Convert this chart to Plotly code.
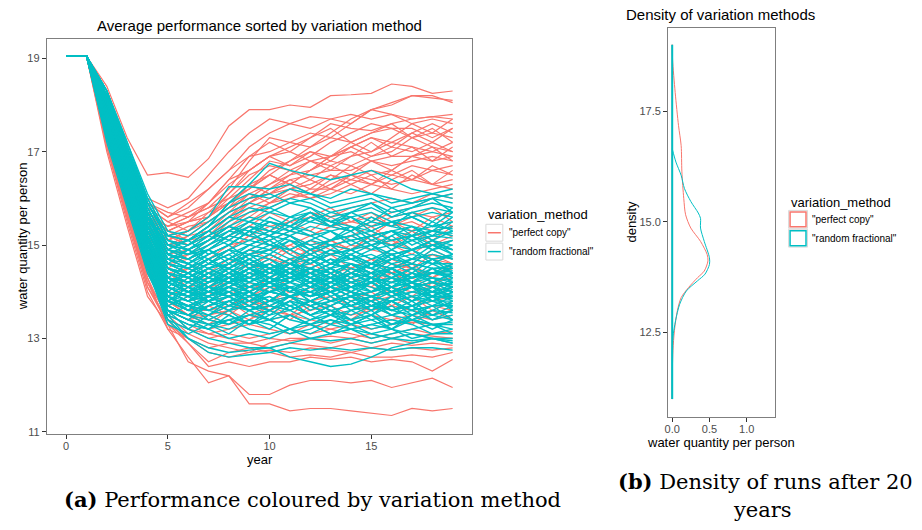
import plotly.graph_objects as go

# ---------------- data ----------------
years = list(range(20))

perfect_copy_runs = [
    [19.05,19.05,18.4,17.3,16.5,16.55,16.45,16.85,17.55,17.9,17.9,18.0,17.95,18.2,18.22,18.25,18.45,18.4,18.25,18.3],
    [19.05,19.05,18.3,17.1,16.0,15.8,16.0,16.5,17.0,17.4,17.7,17.6,17.75,17.7,17.6,17.9,18.0,18.2,18.15,18.1],
    [19.05,19.05,18.2,17.0,15.9,15.6,15.8,16.2,16.6,17.1,17.4,17.6,17.5,17.7,17.8,17.7,17.8,17.7,17.75,17.8],
    [19.05,19.05,18.1,16.9,15.8,15.5,15.7,15.9,16.4,16.9,17.0,17.2,17.4,17.3,17.6,17.9,18.05,18.2,18.2,18.05],
    [19.05,19.05,18.0,16.8,15.7,15.3,15.5,15.6,16.1,16.6,16.9,17.1,17.3,17.6,17.5,17.45,17.6,17.7,17.75,17.7],
    [19.05,19.05,18.2,17.0,15.9,15.7,15.6,15.8,16.0,16.4,16.8,16.7,16.9,17.2,17.4,17.6,17.5,17.5,17.3,17.5],
    [19.05,19.05,17.9,16.6,15.5,15.2,15.4,15.5,15.8,16.3,16.5,16.8,17.0,16.9,17.1,17.3,17.2,17.4,17.6,17.4],
    [19.05,19.05,18.0,16.8,15.6,15.1,15.3,15.7,16.1,16.5,16.7,16.6,16.8,16.7,16.9,17.0,17.2,17.1,17.0,17.2],
    [19.05,19.05,17.8,16.5,15.4,14.9,15.2,15.3,15.7,16.1,16.3,16.5,16.6,16.8,16.7,16.9,17.1,17.0,17.2,17.0],
    [19.05,19.05,18.1,16.9,15.7,15.4,15.5,15.9,16.4,16.6,16.9,17.0,16.8,16.9,17.0,16.8,16.9,16.9,16.8,16.9],
    [19.05,19.05,17.9,16.7,15.5,15.0,15.1,15.2,15.6,15.9,16.2,16.4,16.5,16.6,16.6,16.8,16.7,16.8,16.9,16.8],
    [19.05,19.05,18.0,16.8,15.6,15.3,15.5,15.6,15.9,16.2,16.6,16.8,17.1,17.4,17.7,17.9,17.8,17.6,17.7,17.6],
    [19.05,19.05,17.8,16.6,15.4,14.8,14.9,15.1,15.5,15.8,16.0,16.2,16.3,16.5,16.4,16.6,16.5,16.7,16.6,16.7],
    [19.05,19.05,17.9,16.6,15.5,15.1,15.3,15.5,15.8,16.0,16.1,16.3,16.6,16.9,17.1,16.9,17.0,17.3,17.1,17.0],
    [19.05,19.05,17.7,16.4,15.2,14.7,14.8,15.0,15.3,15.6,15.9,16.0,16.2,16.2,16.4,16.3,16.5,16.4,16.6,16.5],
    [19.05,19.05,18.0,16.7,15.6,15.2,15.0,15.2,15.5,15.9,16.1,16.2,16.0,16.1,16.3,16.5,16.6,16.9,17.0,16.9],
    [19.05,19.05,17.8,16.5,15.3,14.9,14.7,14.9,15.2,15.5,15.8,16.0,16.1,16.3,16.5,16.4,16.3,16.4,16.3,16.4],
    [19.05,19.05,18.1,16.8,15.6,15.4,15.6,15.8,16.2,16.8,17.3,17.2,17.1,17.3,17.2,17.4,17.5,17.3,17.4,17.3],
    [19.05,19.05,18.0,16.8,15.7,15.4,15.6,15.9,16.3,16.6,16.9,16.7,17.0,16.8,17.1,17.3,17.1,17.4,17.2,17.5],
    [19.05,19.05,17.9,16.6,15.5,15.2,15.0,15.3,15.6,16.0,16.3,16.6,16.4,16.7,16.5,16.8,16.6,16.9,17.1,16.8],
    [19.05,19.05,18.2,17.0,15.9,15.6,15.9,16.2,16.6,16.9,17.2,17.0,17.3,17.5,17.2,17.4,17.6,17.3,17.5,17.2],
    [19.05,19.05,17.8,16.6,15.4,15.0,15.2,15.5,15.8,16.1,15.9,16.2,16.4,16.2,16.5,16.3,16.6,16.4,16.7,16.5],
    [19.05,19.05,18.1,16.9,15.8,15.5,15.3,15.6,16.0,16.2,16.5,16.3,16.6,16.9,17.2,17.0,17.3,17.6,17.4,17.7],
    [19.05,19.05,17.9,16.7,15.6,15.3,15.5,15.7,15.9,16.3,16.1,16.4,16.2,16.5,16.3,16.1,16.4,16.6,16.3,16.6],
    [19.05,19.05,18.0,16.8,15.7,15.3,15.1,15.4,15.7,15.9,16.2,16.5,16.8,16.6,16.9,17.2,16.9,17.1,16.8,17.1],
    [19.05,19.05,17.8,16.5,15.4,15.1,15.3,15.6,15.9,16.2,16.5,16.3,16.1,16.4,16.7,16.5,16.2,16.5,16.3,16.2],
    [19.05,19.05,17.7,16.3,15.1,14.5,14.4,14.6,14.9,15.2,15.4,15.5,15.7,15.6,15.8,15.9,16.0,15.9,16.1,16.0],
    [19.05,19.05,17.6,16.2,15.0,14.3,14.2,14.3,14.6,14.9,15.1,15.3,15.2,15.4,15.5,15.4,15.6,15.7,15.6,15.7],
    [19.05,19.05,17.5,16.1,14.8,14.1,13.9,14.0,14.3,14.5,14.7,14.6,14.8,15.0,14.9,15.1,15.0,15.2,15.3,15.2],
    [19.05,19.05,17.6,16.2,14.9,14.2,14.0,14.1,14.2,14.4,14.3,14.5,14.4,14.6,14.5,14.7,14.6,14.5,14.7,14.6],
    [19.05,19.05,17.4,15.9,14.6,13.9,13.7,13.8,14.0,14.1,14.3,14.2,14.4,14.3,14.2,14.4,14.3,14.4,14.2,14.3],
    [19.05,19.05,17.5,16.0,14.7,13.8,13.6,13.6,13.7,13.9,14.0,13.9,14.1,14.0,14.2,14.1,14.0,14.1,14.2,14.1],
    [19.05,19.05,17.3,15.8,14.5,13.7,13.5,13.4,13.6,13.7,13.8,13.9,13.8,13.7,13.9,13.8,13.9,13.7,13.8,13.9],
    [19.05,19.05,17.7,16.3,15.1,14.6,14.7,14.9,15.2,15.4,15.3,15.5,15.6,15.4,15.5,15.6,15.4,15.5,15.3,15.4],
    [19.05,19.05,17.5,16.0,14.8,14.0,13.8,13.9,14.1,14.3,14.5,14.7,14.9,14.8,15.0,14.9,14.8,14.9,15.0,14.9],
    [19.05,19.05,17.4,15.9,14.6,13.8,13.5,13.5,13.6,13.8,13.7,13.6,13.8,13.9,13.7,13.6,13.7,13.6,13.5,13.6],
    [19.05,19.05,17.6,16.1,14.9,14.3,14.1,14.2,14.5,14.8,14.9,15.0,15.2,15.4,15.3,15.5,15.7,15.8,16.0,16.1],
    [19.05,19.05,17.5,16.0,14.7,14.0,13.9,14.1,14.4,14.6,14.5,14.7,14.6,14.4,14.5,14.3,14.4,14.5,14.4,14.5],
    [19.05,19.05,17.6,16.2,15.0,14.4,14.5,14.7,15.0,15.1,15.3,15.2,15.0,15.1,15.2,15.0,15.1,14.9,15.0,15.1],
    [19.05,19.05,17.3,15.8,14.4,13.6,13.4,13.5,13.7,13.9,14.1,14.0,14.2,14.3,14.4,14.6,14.5,14.7,14.8,14.7],
    [19.05,19.05,17.7,16.3,15.2,14.7,14.9,15.1,15.4,15.7,15.9,16.1,16.0,16.2,16.1,16.3,16.2,16.1,16.2,16.3],
    [19.05,19.05,17.4,16.0,14.6,13.9,13.6,13.7,13.9,14.0,13.8,14.0,13.9,14.1,14.0,13.9,14.1,14.0,14.1,14.0],
    [19.05,19.05,17.6,16.2,14.9,14.2,14.5,14.3,14.6,14.9,14.7,15.0,14.8,15.1,14.9,15.2,15.0,14.8,15.1,14.9],
    [19.05,19.05,17.4,16.0,14.6,13.8,13.6,13.9,14.2,14.0,14.3,14.1,13.9,14.2,14.4,14.2,14.5,14.3,14.1,14.4],
    [19.05,19.05,17.7,16.3,15.0,14.4,14.2,14.5,14.3,14.6,14.4,14.7,14.5,14.3,14.6,14.4,14.2,14.5,14.3,14.6],
    [19.05,19.05,17.3,15.8,14.4,13.6,13.4,13.7,13.5,13.8,13.6,13.4,13.7,13.5,13.8,14.0,13.7,13.9,13.6,13.8],
    [19.05,19.05,17.8,16.4,15.1,14.5,14.8,15.1,15.4,15.2,15.5,15.3,15.6,15.8,15.5,15.7,15.4,15.6,15.8,15.5],
    [19.05,19.05,17.5,16.1,14.7,14.0,14.3,14.1,13.9,14.2,14.0,14.3,14.5,14.3,14.6,14.4,14.7,14.5,14.8,14.6],
    [19.05,19.05,17.6,16.2,14.8,14.1,13.9,14.2,14.5,14.3,14.6,14.9,14.6,14.8,14.5,14.7,14.4,14.6,14.3,14.5],
    [19.05,19.05,17.4,15.9,14.5,13.7,13.5,13.3,13.6,13.4,13.7,13.5,13.8,13.6,13.4,13.7,13.5,13.3,13.6,13.4],
    [19.05,19.05,17.7,16.3,15.0,14.3,14.6,14.4,14.7,14.5,14.2,14.5,14.3,14.0,14.3,14.1,14.4,14.2,13.9,14.1],
    [19.05,19.05,17.9,16.6,15.3,14.8,15.0,15.3,15.1,15.4,15.7,15.5,15.3,15.6,15.4,15.2,15.5,15.3,15.6,15.4],
    [19.05,19.05,17.5,16.0,14.6,13.9,14.1,13.9,14.2,14.0,14.3,14.6,14.4,14.2,14.5,14.7,14.4,14.6,14.9,14.7],
    [19.05,19.05,17.6,16.2,14.8,14.0,13.8,14.0,13.7,13.9,13.6,13.8,14.1,13.8,14.0,13.7,13.9,14.2,13.9,14.1],
    [19.05,19.05,17.8,16.5,15.2,14.6,14.4,14.7,14.9,15.2,15.0,14.8,15.1,14.9,15.2,15.4,15.1,15.3,15.0,15.2],
    [19.05,19.05,17.3,15.9,14.5,13.7,13.9,13.6,13.8,13.5,13.7,13.9,13.6,13.8,14.0,13.8,14.1,13.9,14.2,14.0],
    [19.05,19.05,17.7,16.4,15.0,14.4,14.1,14.4,14.2,14.5,14.8,14.6,14.9,15.1,14.9,15.2,15.0,15.3,15.1,15.4],
    [19.05,19.05,17.2,15.6,14.2,13.3,12.5,12.3,12.2,11.6,11.6,11.45,11.5,11.5,11.45,11.4,11.35,11.5,11.45,11.5],
    [19.05,19.05,17.1,15.5,14.0,13.2,12.6,12.05,12.2,11.8,11.8,12.0,12.1,12.1,12.05,12.1,11.95,12.05,12.15,11.95],
    [19.05,19.05,17.0,15.4,13.9,13.3,12.9,12.4,12.5,12.4,12.5,12.5,12.6,12.55,12.6,12.5,12.55,12.5,12.3,12.55],
    [19.05,19.05,17.1,15.6,14.1,13.4,12.9,12.5,12.7,12.8,12.7,12.6,12.65,12.6,12.7,12.6,12.6,12.65,12.6,12.7],
    [19.05,19.05,17.3,15.7,14.3,13.2,13.0,12.8,12.9,12.9,12.8,12.9,12.85,12.8,12.9,12.8,12.9,12.85,12.9,12.85],
    [19.05,19.05,17.2,15.7,14.2,13.5,13.1,12.9,12.8,12.7,12.9,13.0,13.0,12.9,13.0,13.1,13.0,12.9,13.0,13.0],
    [19.05,19.05,17.3,15.8,14.4,13.6,13.2,13.0,13.1,13.0,13.1,13.2,13.1,13.2,13.1,13.0,13.1,13.2,13.1,13.15],
    [19.05,19.05,17.4,15.9,14.5,13.5,13.3,13.1,13.2,13.3,13.2,13.1,13.3,13.2,13.3,13.2,13.3,13.35,13.3,13.3],
    [19.05,19.05,17.2,15.6,14.1,13.3,13.0,12.7,12.6,12.7,12.75,12.7,12.8,12.75,12.7,12.8,12.75,12.8,12.75,12.8],
    [19.05,19.05,17.3,15.7,14.3,13.4,13.2,13.1,13.0,12.9,13.0,12.95,13.0,13.05,13.0,12.9,13.0,13.1,13.05,13.0],
    [19.05,19.05,17.5,16.0,14.6,13.8,13.5,13.3,13.4,13.5,13.4,13.5,13.4,13.3,13.4,13.5,13.4,13.5,13.4,13.5],
    [19.05,19.05,17.4,15.9,14.4,13.6,13.4,13.2,13.3,13.4,13.6,13.5,13.6,13.7,13.5,13.6,13.7,13.6,13.7,13.6],
]

random_fractional_runs = [
    [19.05,19.05,18.0,16.8,15.6,15.0,15.1,15.4,15.9,16.3,16.75,16.6,16.5,16.4,16.5,16.6,16.4,16.2,16.1,16.2],
    [19.05,19.05,17.9,16.7,15.5,15.2,15.3,15.6,16.25,16.25,16.2,16.3,16.1,16.0,16.2,16.1,16.0,15.9,16.0,16.1],
    [19.05,19.05,17.3,15.9,14.5,13.6,13.2,13.0,12.9,12.8,12.8,12.6,12.5,12.4,12.45,12.6,12.8,12.9,13.0,12.9],
    [19.05,19.05,17.2,15.8,14.4,13.5,13.0,12.7,12.6,12.65,12.7,12.8,12.75,12.8,12.75,12.8,12.75,12.8,12.8,12.75],
    [19.05,19.05,17.3,15.9,14.5,13.4,13.0,12.8,12.7,12.75,12.8,12.9,13.0,12.95,13.0,12.9,13.0,12.95,13.0,12.95],
    [19.05,19.05,17.4,16.0,14.6,13.6,13.4,13.3,13.4,13.2,13.1,13.2,13.0,13.1,13.2,13.1,13.0,13.1,13.0,13.0],
    [19.05,19.05,17.5,16.1,14.7,13.7,13.5,13.4,13.3,13.5,13.4,13.2,13.3,13.1,13.2,13.3,13.2,13.0,13.1,13.1],
    [19.05,19.05,17.6,16.2,14.9,14.0,13.8,13.6,13.5,13.3,13.4,13.5,13.3,13.4,13.2,13.3,13.4,13.3,13.1,13.2],
    [19.05,19.05,17.4,16.0,14.6,13.5,13.3,13.2,13.4,13.5,13.6,13.4,13.3,13.5,13.4,13.2,13.3,13.4,13.3,13.3],
    [19.05,19.05,17.7,16.3,15.0,14.1,13.9,13.8,13.6,13.7,13.5,13.6,13.4,13.5,13.3,13.4,13.5,13.4,13.3,13.35],
    [19.05,19.05,17.5,16.1,14.8,13.8,13.6,13.5,13.7,13.6,13.8,13.7,13.5,13.6,13.4,13.5,13.3,13.4,13.5,13.4],
    [19.05,19.05,17.8,16.5,15.2,14.3,14.0,13.8,13.9,13.7,13.6,13.8,13.7,13.5,13.6,13.7,13.5,13.6,13.4,13.5],
    [19.05,19.05,17.6,16.2,14.9,13.9,13.7,13.6,13.8,13.9,13.7,13.6,13.8,13.6,13.5,13.7,13.6,13.5,13.6,13.55],
    [19.05,19.05,17.9,16.6,15.3,14.5,14.3,14.1,14.0,13.8,13.9,13.7,13.8,13.6,13.7,13.8,13.6,13.7,13.5,13.6],
    [19.05,19.05,17.5,16.1,14.7,13.7,13.5,13.7,13.8,13.6,13.7,13.9,13.8,13.7,13.9,13.8,13.6,13.7,13.8,13.65],
    [19.05,19.05,17.7,16.4,15.1,14.2,14.0,13.9,14.1,14.0,13.8,13.9,13.7,13.8,13.9,13.7,13.8,13.6,13.7,13.7],
    [19.05,19.05,17.6,16.3,15.0,14.0,13.8,13.9,13.7,13.8,14.0,13.9,14.0,13.8,13.7,13.9,13.8,13.9,13.7,13.75],
    [19.05,19.05,18.0,16.7,15.4,14.6,14.4,14.2,14.3,14.1,14.0,13.9,14.0,13.8,13.9,13.7,13.8,13.9,13.8,13.8],
    [19.05,19.05,17.5,16.2,14.8,13.8,13.7,13.8,13.9,14.1,14.0,13.9,14.1,14.0,13.8,13.9,14.0,13.8,13.9,13.85],
    [19.05,19.05,17.8,16.5,15.2,14.3,14.1,14.0,13.9,14.1,14.2,14.0,13.9,14.1,14.0,13.9,13.8,14.0,13.9,13.9],
    [19.05,19.05,17.6,16.2,14.9,13.9,13.8,14.0,14.2,14.1,14.3,14.2,14.0,14.1,13.9,14.0,14.1,13.9,14.0,13.95],
    [19.05,19.05,17.9,16.6,15.3,14.4,14.2,14.0,14.1,13.9,14.0,14.1,13.9,14.0,14.2,14.1,13.9,14.0,14.1,14.0],
    [19.05,19.05,17.7,16.3,15.0,14.1,13.9,14.1,14.0,14.2,14.1,14.3,14.2,14.0,14.1,14.2,14.0,14.1,13.9,14.05],
    [19.05,19.05,17.5,16.1,14.7,13.6,13.5,13.7,13.9,14.0,14.2,14.1,14.0,14.2,14.1,14.0,14.2,14.1,14.0,14.1],
    [19.05,19.05,18.0,16.7,15.5,14.7,14.5,14.3,14.2,14.4,14.3,14.1,14.2,14.0,14.1,14.2,14.0,14.1,14.2,14.1],
    [19.05,19.05,17.6,16.3,14.9,14.0,13.9,14.0,14.2,14.3,14.1,14.2,14.4,14.3,14.1,14.2,14.3,14.1,14.2,14.15],
    [19.05,19.05,17.8,16.4,15.1,14.2,14.1,14.3,14.2,14.0,14.2,14.3,14.1,14.2,14.4,14.3,14.1,14.2,14.3,14.2],
    [19.05,19.05,17.7,16.4,15.1,14.2,14.0,14.2,14.4,14.3,14.5,14.4,14.2,14.3,14.1,14.2,14.3,14.2,14.1,14.2],
    [19.05,19.05,17.9,16.5,15.2,14.4,14.3,14.1,14.3,14.2,14.4,14.3,14.5,14.4,14.2,14.3,14.2,14.4,14.3,14.25],
    [19.05,19.05,17.6,16.2,14.8,13.8,13.7,13.9,14.1,14.3,14.2,14.4,14.3,14.2,14.4,14.3,14.2,14.3,14.4,14.3],
    [19.05,19.05,18.1,16.8,15.6,14.8,14.6,14.4,14.5,14.3,14.2,14.4,14.3,14.5,14.3,14.4,14.5,14.3,14.4,14.35],
    [19.05,19.05,17.8,16.5,15.2,14.3,14.2,14.4,14.3,14.5,14.6,14.4,14.5,14.3,14.4,14.6,14.5,14.3,14.4,14.4],
    [19.05,19.05,17.7,16.3,15.0,14.1,14.0,14.2,14.4,14.6,14.5,14.3,14.4,14.6,14.5,14.4,14.3,14.5,14.4,14.45],
    [19.05,19.05,18.0,16.7,15.4,14.5,14.4,14.6,14.5,14.7,14.5,14.6,14.4,14.5,14.6,14.4,14.5,14.6,14.5,14.5],
    [19.05,19.05,17.9,16.6,15.3,14.4,14.3,14.5,14.7,14.6,14.8,14.6,14.5,14.7,14.6,14.5,14.7,14.6,14.5,14.55],
    [19.05,19.05,18.1,16.8,15.6,14.8,14.7,14.5,14.6,14.8,14.7,14.5,14.6,14.8,14.7,14.6,14.5,14.7,14.6,14.6],
    [19.05,19.05,17.8,16.5,15.2,14.3,14.2,14.4,14.6,14.8,14.9,14.7,14.8,14.6,14.7,14.8,14.6,14.7,14.8,14.7],
    [19.05,19.05,18.0,16.7,15.5,14.6,14.5,14.7,14.9,14.8,15.0,14.9,14.7,14.8,14.9,14.7,14.8,14.9,14.7,14.8],
    [19.05,19.05,17.9,16.6,15.3,14.5,14.4,14.6,14.8,15.0,14.9,15.1,15.0,14.8,14.9,15.0,14.8,14.9,15.0,14.9],
    [19.05,19.05,18.2,16.9,15.7,14.9,14.8,14.9,15.1,15.0,15.2,15.1,14.9,15.0,15.1,14.9,15.0,15.1,14.9,15.0],
    [19.05,19.05,18.0,16.7,15.4,14.6,14.5,14.7,14.9,15.1,15.0,14.9,15.1,15.0,14.9,15.1,15.0,14.9,15.1,15.0],
    [19.05,19.05,18.1,16.8,15.6,14.8,14.7,14.9,15.2,15.1,15.3,15.2,15.0,15.1,15.2,15.0,15.1,15.2,15.0,15.1],
    [19.05,19.05,18.2,17.0,15.8,15.0,14.9,15.1,15.3,15.2,15.1,15.3,15.2,15.0,15.1,15.2,15.3,15.1,15.2,15.15],
    [19.05,19.05,18.0,16.7,15.5,14.7,14.6,14.8,15.0,15.3,15.2,15.4,15.3,15.1,15.2,15.3,15.1,15.2,15.3,15.2],
    [19.05,19.05,18.3,17.1,15.9,15.1,15.0,15.2,15.4,15.3,15.5,15.4,15.2,15.3,15.4,15.2,15.3,15.4,15.2,15.3],
    [19.05,19.05,18.1,16.9,15.7,14.9,14.8,15.0,15.3,15.5,15.4,15.3,15.5,15.4,15.3,15.5,15.4,15.3,15.4,15.35],
    [19.05,19.05,18.2,17.0,15.8,15.0,14.9,15.1,15.4,15.6,15.5,15.4,15.6,15.5,15.4,15.3,15.5,15.4,15.3,15.4],
    [19.05,19.05,18.3,17.2,16.0,15.2,15.1,15.3,15.6,15.5,15.7,15.6,15.5,15.7,15.6,15.4,15.5,15.6,15.4,15.5],
    [19.05,19.05,18.2,17.0,15.8,15.0,14.9,15.2,15.5,15.7,15.8,15.6,15.7,15.5,15.6,15.7,15.5,15.6,15.7,15.6],
    [19.05,19.05,18.3,17.1,15.9,15.1,15.0,15.3,15.6,15.8,15.7,15.9,15.8,15.6,15.7,15.8,15.6,15.7,15.8,15.7],
    [19.05,19.05,18.2,17.0,15.9,15.2,15.1,15.4,15.7,15.9,15.8,16.0,15.9,15.7,15.8,15.9,15.7,15.8,15.9,15.8],
    [19.05,19.05,18.3,17.2,16.1,15.3,15.2,15.5,15.8,16.0,16.1,15.9,16.0,15.8,15.9,16.0,15.8,15.9,16.0,15.9],
    [19.05,19.05,18.3,17.1,16.0,15.2,15.1,15.4,15.9,16.1,16.0,16.2,16.1,15.9,16.0,16.1,15.9,16.0,16.1,16.0],
    [19.05,19.05,18.0,16.8,15.6,14.8,14.7,14.9,15.2,15.4,15.3,15.2,15.4,15.3,15.1,15.2,15.3,15.2,15.3,15.25],
    [19.05,19.05,17.9,16.6,15.3,14.5,14.3,14.5,14.7,14.9,14.8,14.6,14.7,14.9,14.8,14.6,14.7,14.8,14.7,14.75],
    [19.05,19.05,17.6,16.2,14.9,13.9,13.7,13.9,14.0,13.8,14.0,14.1,13.9,14.0,14.1,13.9,14.0,14.1,14.0,14.1],
    [19.05,19.05,17.7,16.4,15.0,14.1,13.9,14.0,14.2,14.1,14.3,14.2,14.1,14.3,14.2,14.0,14.1,14.2,14.1,14.2],
    [19.05,19.05,17.4,16.0,14.6,13.5,13.3,13.2,13.0,13.1,13.0,13.2,13.1,13.3,13.2,13.0,13.1,13.2,13.3,13.2],
    [19.05,19.05,17.5,16.1,14.7,13.7,13.5,13.3,13.2,13.4,13.3,13.1,13.2,13.4,13.3,13.1,13.2,13.1,13.0,12.9],
    [19.05,19.05,17.8,16.5,15.1,14.2,14.0,14.1,14.3,14.5,14.4,14.6,14.5,14.4,14.6,14.5,14.4,14.3,14.4,14.5],
    [19.05,19.05,17.5,16.1,14.8,13.9,13.6,13.9,13.7,14.0,13.8,14.1,13.8,14.0,13.7,13.9,14.1,13.8,14.0,13.8],
    [19.05,19.05,17.8,16.4,15.0,14.2,14.4,14.1,14.4,14.2,14.5,14.2,14.4,14.1,14.3,14.0,14.3,14.1,14.2,14.4],
    [19.05,19.05,17.6,16.2,14.8,13.8,14.1,13.8,14.0,13.7,13.9,13.6,13.8,14.0,13.7,13.9,13.6,13.8,13.5,13.7],
    [19.05,19.05,18.0,16.8,15.5,14.7,14.9,14.6,14.9,14.6,14.8,15.1,14.8,15.0,14.7,14.9,15.2,14.9,15.1,14.8],
    [19.05,19.05,17.7,16.3,15.0,14.0,14.3,14.0,14.2,14.5,14.2,14.4,14.7,14.4,14.6,14.3,14.5,14.2,14.4,14.6],
    [19.05,19.05,17.4,16.0,14.6,13.5,13.7,13.4,13.6,13.3,13.6,13.8,13.5,13.7,13.4,13.6,13.3,13.5,13.7,13.4],
    [19.05,19.05,18.2,16.9,15.7,14.9,15.1,14.8,15.0,15.3,15.0,15.2,14.9,15.1,15.4,15.1,15.3,15.0,15.2,15.5],
    [19.05,19.05,17.9,16.6,15.3,14.4,14.2,14.5,14.3,14.6,14.3,14.5,14.2,14.4,14.1,14.3,14.0,14.2,14.0,13.9],
    [19.05,19.05,17.6,16.3,14.9,13.9,13.7,13.5,13.8,13.6,13.4,13.7,13.5,13.3,13.6,13.4,13.2,13.5,13.3,13.1],
    [19.05,19.05,18.1,16.8,15.6,14.8,14.6,14.9,14.7,15.0,15.2,14.9,15.1,15.3,15.0,15.2,14.9,15.1,15.3,15.6],
    [19.05,19.05,17.7,16.4,15.1,14.1,13.9,14.2,14.4,14.1,14.3,14.0,14.2,13.9,14.1,14.3,14.0,14.2,13.9,14.1],
    [19.05,19.05,17.8,16.5,15.2,14.3,14.6,14.3,14.5,14.8,14.5,14.7,14.4,14.6,14.8,14.5,14.3,14.5,14.2,14.4],
    [19.05,19.05,17.5,16.1,14.7,13.6,13.4,13.7,13.9,13.6,13.8,14.1,13.8,14.0,13.7,13.5,13.8,13.6,13.9,13.7],
    [19.05,19.05,18.0,16.7,15.4,14.6,14.4,14.7,14.5,14.3,14.6,14.4,14.7,14.5,14.8,14.6,14.9,14.7,15.0,14.8],
    [19.05,19.05,17.6,16.2,14.9,13.9,14.2,14.4,14.2,14.5,14.3,14.6,14.4,14.2,14.5,14.3,14.6,14.4,14.7,14.5],
    [19.05,19.05,18.2,17.0,15.8,15.0,14.8,15.1,15.4,15.2,15.5,15.3,15.6,15.4,15.7,15.5,15.8,15.6,15.4,15.7],
    [19.05,19.05,17.4,16.0,14.6,13.4,13.2,13.5,13.3,13.6,13.4,13.2,13.4,13.6,13.3,13.5,13.7,13.4,13.6,13.8],
    [19.05,19.05,17.9,16.5,15.2,14.3,14.1,13.9,14.2,14.0,13.8,14.1,13.9,14.2,14.0,13.8,14.0,13.7,13.9,14.2],
    [19.05,19.05,18.1,16.9,15.6,14.8,15.0,15.3,15.1,15.4,15.2,15.5,15.7,15.4,15.6,15.3,15.5,15.2,15.5,15.3],
    [19.05,19.05,17.7,16.3,15.0,14.1,14.4,14.2,14.5,14.7,14.4,14.6,14.9,14.6,14.8,15.0,14.7,14.9,15.1,14.9],
    [19.05,19.05,17.5,16.1,14.8,13.7,13.5,13.8,13.6,13.9,14.2,13.9,14.1,14.4,14.1,14.3,14.0,14.2,14.5,14.3],
    [19.05,19.05,18.0,16.7,15.5,14.6,14.9,14.7,14.4,14.7,14.5,14.2,14.5,14.3,14.0,14.3,14.1,14.4,14.2,14.0],
    [19.05,19.05,17.6,16.2,14.8,13.8,13.6,13.9,14.1,13.8,13.6,13.9,13.7,13.5,13.8,13.6,13.9,13.7,13.4,13.6],
    [19.05,19.05,18.2,16.9,15.7,14.9,14.7,15.0,15.2,15.5,15.3,15.6,15.8,15.5,15.7,15.9,15.6,15.8,16.0,15.7],
    [19.05,19.05,17.8,16.5,15.2,14.2,14.0,14.3,14.1,14.4,14.6,14.3,14.5,14.7,14.4,14.6,14.8,14.5,14.7,14.4],
    [19.05,19.05,17.3,15.9,14.5,13.3,13.1,13.3,13.1,13.4,13.2,13.5,13.3,13.1,13.3,13.5,13.2,13.4,13.2,13.4],
    [19.05,19.05,17.9,16.6,15.3,14.5,14.3,14.6,14.8,14.5,14.7,14.4,14.2,14.5,14.3,14.6,14.4,14.1,14.3,14.1],
    [19.05,19.05,17.6,16.3,14.9,14.0,13.8,14.1,13.9,13.7,14.0,14.2,14.5,14.3,14.6,14.4,14.7,14.9,14.6,14.8],
    [19.05,19.05,18.1,16.8,15.6,14.7,14.5,14.3,14.6,14.4,14.2,14.5,14.3,14.1,14.4,14.2,14.5,14.3,14.6,14.4],
    [19.05,19.05,17.5,16.2,14.8,13.8,14.0,13.8,14.1,13.9,14.2,14.0,14.3,14.1,14.4,14.2,13.9,14.1,13.8,14.0],
    [19.05,19.05,18.0,16.8,15.5,14.7,14.5,14.8,15.0,14.7,14.9,15.2,14.9,15.1,15.3,15.0,15.2,15.4,15.1,15.3],
    [19.05,19.05,17.7,16.4,15.1,14.2,14.0,13.8,14.0,13.8,14.1,13.9,13.7,13.9,13.6,13.8,13.5,13.7,13.9,13.6],
    [19.05,19.05,17.8,16.5,15.2,14.3,14.1,14.4,14.2,14.5,14.3,14.6,14.8,14.6,14.9,14.7,14.9,15.2,14.9,15.1],
    [19.05,19.05,17.4,16.1,14.7,13.6,13.4,13.2,13.5,13.3,13.5,13.8,13.5,13.7,13.9,13.6,13.8,13.5,13.7,13.9],
    [19.05,19.05,18.1,16.9,15.7,14.8,14.6,14.9,14.6,14.9,15.1,14.8,14.6,14.9,14.7,14.5,14.8,14.6,14.9,14.7],
    [19.05,19.05,17.6,16.3,15.0,14.0,13.8,14.0,14.3,14.0,14.2,14.4,14.1,14.3,14.0,14.2,14.5,14.2,14.0,14.3],
    [19.05,19.05,17.9,16.6,15.4,14.5,14.3,14.5,14.3,14.0,14.2,14.0,14.3,14.1,13.9,14.2,14.0,13.8,14.1,13.9],
    [19.05,19.05,18.3,17.1,15.9,15.1,14.9,15.2,15.0,15.3,15.6,15.4,15.7,15.5,15.3,15.6,15.4,15.7,15.5,15.8],
    [19.05,19.05,17.5,16.1,14.7,13.7,13.9,13.6,13.8,14.0,13.7,13.9,13.6,13.8,14.0,13.7,13.9,14.1,13.8,14.0],
    [19.05,19.05,17.7,16.4,15.1,14.2,14.4,14.2,14.5,14.2,14.4,14.6,14.3,14.5,14.2,14.4,14.1,14.3,14.5,14.2],
]

# density of the final values (value axis, density)
density_perfect_value = [11.0, 11.7, 12.1, 12.55, 13.0, 13.29, 13.52, 13.74, 13.89, 14.12, 14.26, 14.56,
                         14.86, 15.16, 15.53, 16.13, 16.72, 17.17, 17.92, 18.66, 19.0]
density_perfect = [0.0, 0.003, 0.01, 0.03, 0.07, 0.12, 0.22, 0.34, 0.43, 0.48, 0.47, 0.38,
                   0.25, 0.18, 0.155, 0.13, 0.12, 0.085, 0.04, 0.005, 0.0]
density_random_value = [11.0, 12.1, 12.4, 12.77, 13.14, 13.44, 13.67, 13.82, 14.04, 14.19, 14.56,
                        14.86, 15.08, 15.2, 15.46, 15.75, 16.05, 16.35, 16.65]
density_random = [0.0, 0.0, 0.01, 0.045, 0.1, 0.19, 0.34, 0.44, 0.5, 0.5, 0.43,
                  0.38, 0.38, 0.35, 0.25, 0.165, 0.12, 0.05, 0.0]
density_support = [11.0, 19.0]

method_labels = ['"perfect copy"', '"random fractional"']
RED = "#F8766D"
CYAN = "#00BFC4"

# ---------------- figure ----------------
W, H = 922, 530
def fx(p):
    return p / W
def fy(p):
    return 1 - p / H

SANS = "Liberation Sans, Arial, sans-serif"
SERIF = "DejaVu Serif, serif"

def joined(runs):
    xs, ys = [], []
    for r in runs:
        n = min(len(r), len(years))
        xs += years[:n] + [None]
        ys += r[:n] + [None]
    return xs, ys

fig = go.Figure()
xr, yr = joined(perfect_copy_runs)
fig.add_trace(go.Scatter(x=xr, y=yr, mode="lines", line=dict(color=RED, width=1.2),
                         name=method_labels[0], xaxis="x", yaxis="y", hoverinfo="skip"))
xc, yc = joined(random_fractional_runs)
fig.add_trace(go.Scatter(x=xc, y=yc, mode="lines", line=dict(color=CYAN, width=1.4),
                         name=method_labels[1], xaxis="x", yaxis="y", hoverinfo="skip"))

# density panel (flipped)
fig.add_trace(go.Scatter(x=density_perfect, y=density_perfect_value, mode="lines",
                         line=dict(color=RED, width=1, shape="spline", smoothing=0.8),
                         xaxis="x2", yaxis="y2", hoverinfo="skip"))
fig.add_trace(go.Scatter(x=[0, 0], y=density_support, mode="lines",
                         line=dict(color=RED, width=1.2), xaxis="x2", yaxis="y2", hoverinfo="skip"))
fig.add_trace(go.Scatter(x=density_random, y=density_random_value, mode="lines",
                         line=dict(color=CYAN, width=1, shape="spline", smoothing=0.8),
                         xaxis="x2", yaxis="y2", hoverinfo="skip"))
fig.add_trace(go.Scatter(x=[0, 0], y=density_support, mode="lines",
                         line=dict(color=CYAN, width=2), xaxis="x2", yaxis="y2", hoverinfo="skip"))

axis_common = dict(showline=True, mirror=True, linecolor="#7f7f7f", linewidth=1,
                   ticks="outside", ticklen=4, tickcolor="#333333", tickwidth=1,
                   showgrid=False, zeroline=False,
                   tickfont=dict(family=SANS, size=11, color="#4d4d4d"))

fig.update_layout(
    width=W, height=H, margin=dict(l=0, r=0, t=0, b=0),
    paper_bgcolor="white", plot_bgcolor="white", showlegend=False,
    xaxis=dict(domain=[fx(43), fx(470)], range=[-0.95, 19.95], tickvals=[0, 5, 10, 15],
               anchor="y", ticklabelstandoff=-2, **axis_common),
    yaxis=dict(domain=[fy(437), fy(39)], range=[10.96, 19.42], tickvals=[11, 13, 15, 17, 19],
               anchor="x", **axis_common),
    xaxis2=dict(domain=[fx(667), fx(774)], range=[-0.055, 1.375], tickvals=[0, 0.5, 1.0],
                ticktext=["0.0", "0.5", "1.0"], anchor="y2", ticklabelstandoff=-2, **axis_common),
    yaxis2=dict(domain=[fy(420), fy(28)], range=[10.6, 19.38], tickvals=[12.5, 15, 17.5],
                ticktext=["12.5", "15.0", "17.5"], anchor="x2", **axis_common),
)

ann = []
def text(t, x, y, size, family=SANS, color="black", xanchor="center", angle=0):
    ann.append(dict(text=t, x=fx(x), y=fy(y), xref="paper", yref="paper", showarrow=False,
                    xanchor=xanchor, yanchor="middle", textangle=angle,
                    font=dict(family=family, size=size, color=color)))

# titles
text("Average performance sorted by variation method", 257, 26, 15)
text("water quantity per person", 18, 238, 13, angle=-90)
text("year", 257, 463, 13)
text("Density of variation methods", 720, 15, 15)
text("density", 630, 223, 13, angle=-90)
text("water quantity per person", 720, 446, 13)

# legends
shapes = []
def rect(x0, y0, x1, y1, color, width=1):
    shapes.append(dict(type="rect", xref="paper", yref="paper", x0=fx(x0), x1=fx(x1),
                       y0=fy(y1), y1=fy(y0), line=dict(color=color, width=width),
                       fillcolor="white", layer="above"))
def hline(x0, x1, y, color, width=1):
    shapes.append(dict(type="line", xref="paper", yref="paper", x0=fx(x0), x1=fx(x1),
                       y0=fy(y), y1=fy(y), line=dict(color=color, width=width), layer="above"))

text("variation_method", 484, 216, 13, xanchor="left")
for i, (lab, col) in enumerate(zip(method_labels, [RED, CYAN])):
    y0 = 226 + i * 19
    rect(484, y0, 501, y0 + 17, "#d9d9d9")
    hline(486, 499, y0 + 8.5, col, 1.5)
    text(lab, 505, y0 + 8.5, 10, xanchor="left")

text("variation_method", 788, 204, 13, xanchor="left")
for i, (lab, col) in enumerate(zip(method_labels, [RED, CYAN])):
    y0 = 212 + i * 19
    rect(788, y0, 807, y0 + 18, "#d9d9d9")
    rect(789.5, y0 + 1.5, 805.5, y0 + 16.5, col, 1.5)
    text(lab, 810, y0 + 9, 10, xanchor="left")

# captions
text("<b>(a)</b> Performance coloured by variation method", 310, 503, 21, family=SERIF)
text("<b>(b)</b> Density of runs after 20", 765, 485, 21, family=SERIF)
text("years", 762, 514, 21, family=SERIF)

fig.update_layout(annotations=ann, shapes=shapes)
fig.write_html("out.html")
